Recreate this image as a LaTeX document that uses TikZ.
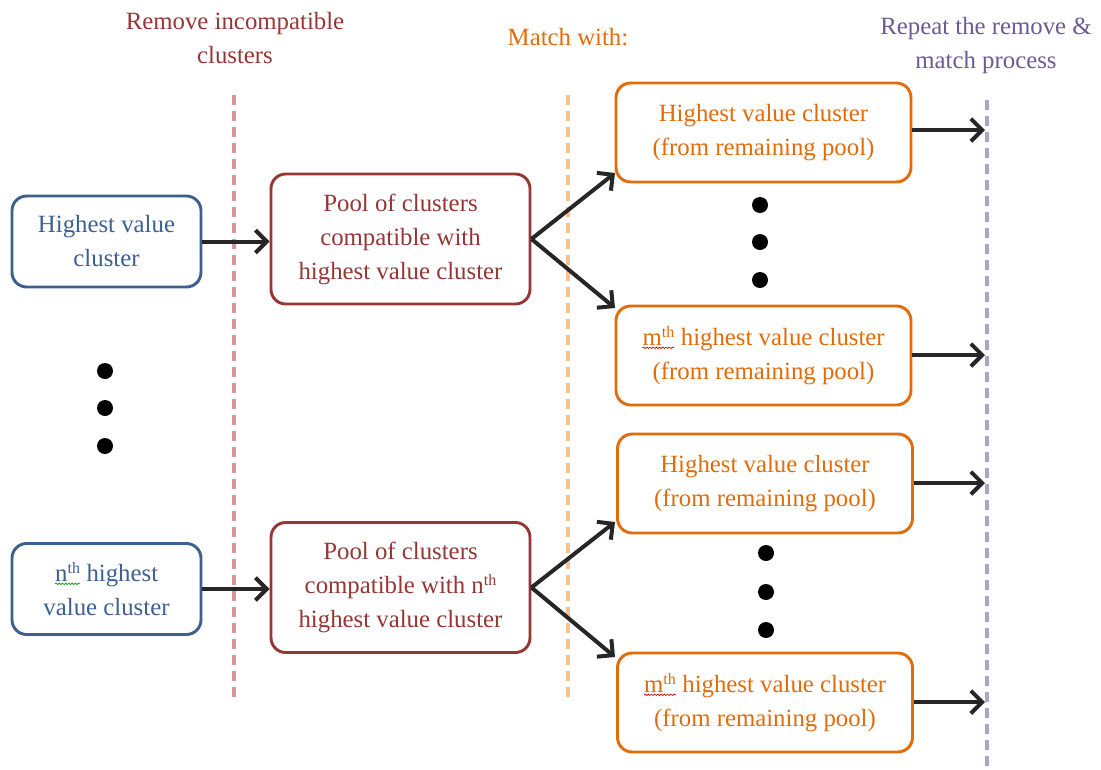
\documentclass[tikz,border=0pt]{standalone}
\usepackage{fontspec}
\setmainfont{Liberation Serif}
\usetikzlibrary{arrows.meta,calc,decorations.pathmorphing}
\definecolor{cblue}{HTML}{3D6090}
\definecolor{cred}{HTML}{953735}
\definecolor{corange}{HTML}{E36C0A}
\definecolor{cpurple}{HTML}{6B5A93}
\definecolor{lred}{HTML}{DA9694}
\definecolor{lorange}{HTML}{FAC090}
\definecolor{lpurple}{HTML}{B3A2C7}
\definecolor{arrowgray}{HTML}{262626}
\tikzset{
  box/.style={draw, line width=2.2pt, rounded corners=11pt, fill=white, align=center,
    font=\fontsize{18.6}{25.5}\selectfont},
  bluebox/.style={box, draw=cblue, text=cblue, minimum width=141.75pt, minimum height=68.25pt},
  redbox/.style={box, draw=cred, text=cred, minimum width=194.25pt, minimum height=97.5pt},
  orangebox/.style={box, draw=corange, text=corange, minimum width=221.25pt, minimum height=74.25pt},
  divider/.style={line width=3pt, dash pattern=on 7.5pt off 4.5pt},
  flow/.style={draw=arrowgray, line width=3pt, -{Straight Barb[length=8.5pt,width=17pt,line width=3pt]}},
  heading/.style={align=center, font=\fontsize{18.6}{25.5}\selectfont},
  dot/.style={circle, fill=black, inner sep=0pt, minimum size=12pt},
  plainword/.style={shape=rectangle, inner sep=0pt, outer sep=0pt, minimum width=0pt,
    minimum height=0pt, draw=none, fill=none, sharp corners},
  squiggle/.style={line width=0.5pt, sharp corners, fill=none, decorate,
    decoration={snake, amplitude=0.6pt, segment length=2.4pt}}
}
% word with a wavy proofing underline
\newcommand\proofmark[2]{\tikz[baseline=(w.base)]{\node[plainword] (w) {#2};
  \draw[squiggle, draw=#1] ([yshift=-1.8pt]w.base west) -- ([yshift=-1.8pt]w.base east);}}
\newcommand\thsup{\raisebox{6pt}{\fontsize{12}{12}\selectfont th}}
\begin{document}
\begin{tikzpicture}[x=0.75pt, y=-0.75pt]
\useasboundingbox (0,0) rectangle (1101,769);

% column headings
\node[heading, text=cred] (h1) at (235,38) {Remove incompatible\\clusters};
\node[heading, text=corange] (h2) at (568,37) {Match with:};
\node[heading, text=cpurple] (h3) at (986,46) {Repeat the remove \&\\match process};

% dashed stage dividers
\coordinate (d1t) at (234,95);  \coordinate (d1b) at (234,697);
\coordinate (d2t) at (568,95);  \coordinate (d2b) at (568,697);
\coordinate (d3t) at (987,100); \coordinate (d3b) at (987,769);
\draw[divider, draw=lred] (d1t) -- (d1b);
\draw[divider, draw=lorange] (d2t) -- (d2b);
\draw[divider, draw=lpurple] (d3t) -- (d3b);

% starting clusters
\node[bluebox] (b1) at (106.5,241.5) {Highest value\\cluster};
\node[bluebox] (b2) at (106.5,589) {\proofmark{green!60!black}{n\thsup} highest\\value cluster};

% compatible pools
\node[redbox] (r1) at (400.5,239) {Pool of clusters\\compatible with\\highest value cluster};
\node[redbox] (r2) at (400.5,587.5) {Pool of clusters\\compatible with n\thsup\\highest value cluster};

% matched clusters
\node[orangebox] (o1) at (763.5,132.5) {Highest value cluster\\(from remaining pool)};
\node[orangebox] (o2) at (763.5,355.5) {\proofmark{red!80!black}{m\thsup} highest value cluster\\(from remaining pool)};
\node[orangebox] (o3) at (765,483.5) {Highest value cluster\\(from remaining pool)};
\node[orangebox] (o4) at (765,702.5) {\proofmark{red!80!black}{m\thsup} highest value cluster\\(from remaining pool)};

% ellipsis dots
\node[dot] (l1) at (105,371) {};
\node[dot] (l2) at (105,408) {};
\node[dot] (l3) at (105,446) {};
\node[dot] (u1) at (760,205) {};
\node[dot] (u2) at (760,242) {};
\node[dot] (u3) at (760,280) {};
\node[dot] (w1) at (766,553) {};
\node[dot] (w2) at (766,592) {};
\node[dot] (w3) at (766,630) {};

% flow arrows
\draw[flow] (b1.east) -- (b1.east -| r1.west);
\draw[flow] (b2.east) -- (b2.east -| r2.west);
\coordinate (t1) at (615,173);
\coordinate (t2) at (615,308);
\coordinate (t3) at (615,522);
\coordinate (t4) at (615,657);
\draw[flow] (r1.east) -- (t1);
\draw[flow] (r1.east) -- (t2);
\draw[flow] (r2.east) -- (t3);
\draw[flow] (r2.east) -- (t4);
\coordinate (e1) at (985,130);
\coordinate (e2) at (985,355);
\coordinate (e3) at (985,483);
\coordinate (e4) at (985,702);
\draw[flow] (o1.east |- e1) -- (e1);
\draw[flow] (o2.east |- e2) -- (e2);
\draw[flow] (o3.east |- e3) -- (e3);
\draw[flow] (o4.east |- e4) -- (e4);
\end{tikzpicture}
\end{document}
